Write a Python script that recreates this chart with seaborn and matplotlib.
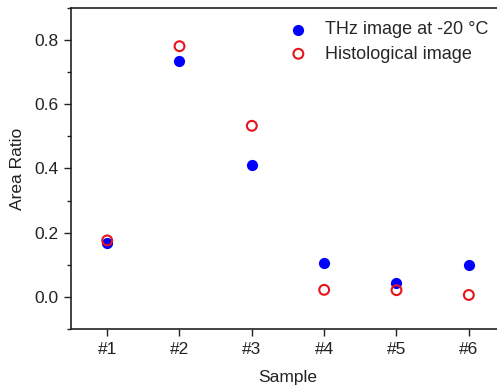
import matplotlib
matplotlib.use("Agg")
import matplotlib.pyplot as plt
import seaborn as sns
import pandas as pd
from matplotlib.ticker import MultipleLocator

samples = ["#1", "#2", "#3", "#4", "#5", "#6"]
thz = [0.167, 0.735, 0.410, 0.106, 0.043, 0.099]
histo = [0.176, 0.781, 0.533, 0.022, 0.021, 0.006]

sns.set_theme(style="ticks")
plt.rcParams['font.family'] = ['Liberation Sans', 'DejaVu Sans']

pos = list(range(1, len(samples) + 1))
df_t = pd.DataFrame({"x": pos, "y": thz})
df_h = pd.DataFrame({"x": pos, "y": histo})

fig = plt.figure(figsize=(4.97, 3.87), dpi=100)
ax = fig.add_axes([71/497, 1 - 329/387, (505-71)/497, (329-8)/387])

sns.scatterplot(data=df_t, x="x", y="y", ax=ax, color="#0000ff", s=65,
                edgecolor="#0000ff", linewidth=0, label="THz image at -20 \u00b0C", zorder=3)
sns.scatterplot(data=df_h, x="x", y="y", ax=ax, facecolor="none", s=50,
                edgecolor="#e8141c", linewidth=1.5, label="Histological image", zorder=4)

ax.set_xlim(0.5, 6.5)
ax.set_ylim(-0.1, 0.9)
ax.set_xticks(pos)
ax.set_xticklabels(samples)
ax.yaxis.set_major_locator(MultipleLocator(0.2))
ax.yaxis.set_minor_locator(MultipleLocator(0.1))
ax.yaxis.set_major_formatter(matplotlib.ticker.FormatStrFormatter('%.1f'))
ax.tick_params(axis='both', which='major', direction='out', length=5, width=1,
               labelsize=12.5, colors='#222222', pad=4)
ax.tick_params(axis='y', which='minor', direction='out', length=3, width=1, colors='#222222')
for sp in ax.spines.values():
    sp.set_color('#222222')
    sp.set_linewidth(1.2)
ax.set_xlabel("Sample", fontsize=12.5, color='#222222', labelpad=10)
ax.set_ylabel("Area Ratio", fontsize=12.5, color='#222222', labelpad=7)

leg = ax.legend(loc="upper left", bbox_to_anchor=(0.4615, 0.998), frameon=False,
                fontsize=13, handletextpad=0.7, labelspacing=0.4, borderaxespad=0.3,
                handlelength=1.6)

fig.savefig("out.png", dpi=100)
